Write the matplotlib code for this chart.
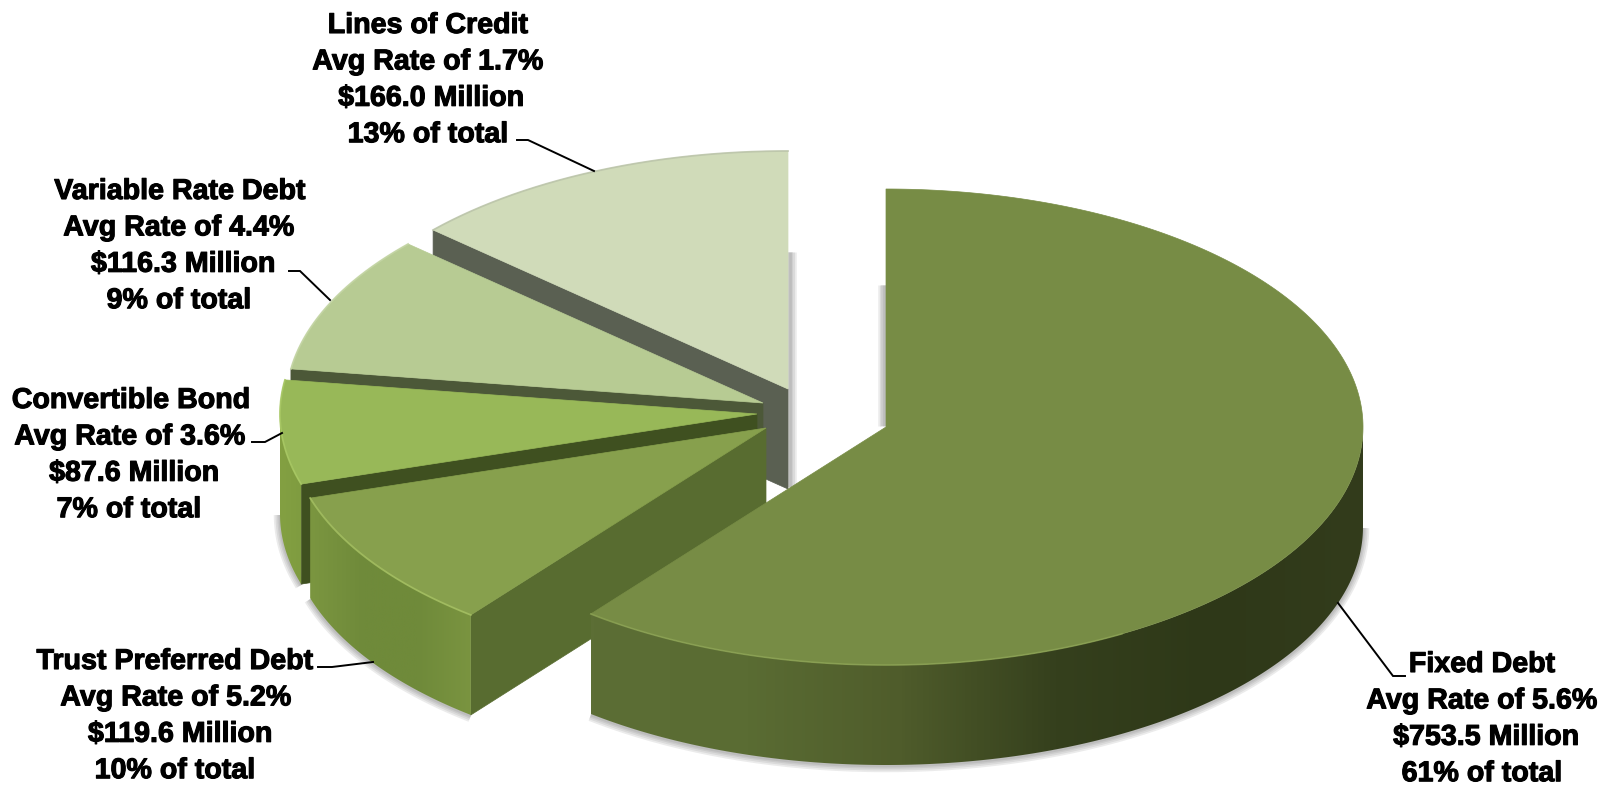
#!/usr/bin/env python3
# Exploded 3D pie of the debt mix, drawn by hand as projected wedges

import matplotlib
matplotlib.use('Agg')
import matplotlib.pyplot as plt
import matplotlib.patheffects as pe
import numpy as np
from matplotlib.colors import LinearSegmentedColormap
from matplotlib.patches import Polygon

# data
names = ['Fixed Debt', 'Trust Preferred Debt', 'Convertible Bond', 'Variable Rate Debt', 'Lines of Credit']
rates = [5.6, 5.2, 3.6, 4.4, 1.7]
amounts = [753.5, 119.6, 87.6, 116.3, 166.0]
shares = [61, 10, 7, 9, 13]

W, H = 1618, 788
plt.rcParams['font.family'] = ['Liberation Sans', 'DejaVu Sans']

# ellipse of the top face and height of the disc, in pixels
RX, RY, DEPTH = 477, 238, 100

# apex of each wedge after exploding
apex = [(886, 427), (766, 428), (757, 414), (763, 403), (788, 389)]

top_colors = ['#778c45', '#87a04d', '#98b858', '#b7cb93', '#d0dbb9']
face_colors = ['#566a2e', '#586c30', '#3f5020', '#4c5838', '#5a6052']
edge_colors = ['#8fa656', '#a6c163', '#a9c964', '#c5d6a6', '#b9c2a8']
rim_stops = [
    ['#5c6e35', '#5a6c33', '#4f5c2b', '#35401d', '#2e3818', '#333c1c'],
    ['#7b9640', '#6f8a3a', '#6f8a3a', '#7a9440'],
    ['#83a042', '#7f9c40'],
    None,
    None,
]

# leader lines: label end, elbow, wedge end
leaders = [
    [(1405, 676), (1393, 676), (1338, 603)],
    [(318, 667), (332, 667), (373, 662)],
    [(252, 442), (265, 442), (282, 433)],
    [(289, 271), (300, 271), (330, 300)],
    [(517, 140), (528, 140), (594, 171)],
]

# text rows: centre x of each of the four rows, then y of the first row
label_x = [
    [1482, 1482, 1486, 1482],
    [175, 176, 180, 175],
    [131, 130, 134, 129],
    [180, 179, 183, 179],
    [428, 428, 431, 428],
]
label_y = [664, 661, 400, 191, 25]

fig = plt.figure(figsize=(W / 100, H / 100), dpi=100)
ax = fig.add_axes([0, 0, 1, 1])


def ray(i, theta):
    # point on the top ellipse, theta clockwise from 12 o'clock
    return (apex[i][0] + RX * np.sin(theta), apex[i][1] - RY * np.cos(theta))


def soft_edge(xs, ys, z):
    # grey halo along an outline, fakes the drop shadow
    for w in (9, 6.5, 4, 2):
        ax.plot(xs, ys, color='#606060', alpha=0.12, lw=w, zorder=z,
                solid_capstyle='butt', solid_joinstyle='round')


edges = np.radians(np.cumsum([0] + amounts) / sum(amounts) * 360)

# back to front so nearer wedges cover the others
for i in [4, 3, 2, 1, 0]:
    z = (5 - i) * 10
    t0, t1 = edges[i], edges[i + 1]
    ax0, ay0 = apex[i]
    sx, sy = ray(i, t0)

    # cut face along the starting radius
    ax.add_patch(Polygon([(ax0, ay0), (ax0, ay0 + DEPTH), (sx, sy + DEPTH), (sx, sy)],
                         closed=True, fc=face_colors[i], ec=face_colors[i], lw=0.5, zorder=z + 2))

    # outer rim, only where it faces the viewer
    lo, hi = max(t0, np.pi / 2), min(t1, 3 * np.pi / 2)
    if rim_stops[i] is not None and hi > lo:
        th = np.linspace(lo, hi, 200)
        rx, ry = ray(i, th)
        rim = list(zip(rx, ry)) + list(zip(rx[::-1], ry[::-1] + DEPTH))
        soft_edge(rx, ry + DEPTH + 1, z)
        cmap = LinearSegmentedColormap.from_list('rim%d' % i, rim_stops[i])
        patch = Polygon(rim, closed=True, fc='none', ec='none', zorder=z + 3)
        ax.add_patch(patch)
        grad = np.linspace(0, 1, 256).reshape(1, -1)
        img = ax.imshow(grad, cmap=cmap, aspect='auto', zorder=z + 3,
                        extent=(rx.min(), rx.max(), ry.max() + DEPTH, ry.min()))
        img.set_clip_path(patch)

    # top face
    th = np.linspace(t0, t1, 300)
    tx, ty = ray(i, th)
    top = [(ax0, ay0)] + list(zip(tx, ty))
    ax.add_patch(Polygon(top, closed=True, fc=top_colors[i], ec=top_colors[i], lw=0.5, zorder=z + 4))

    # light line along the arc, on the big wedge only its front part catches light
    if i == 0:
        front = th > np.radians(150)
        ax.plot(tx[front], ty[front], color=edge_colors[i], lw=1.2, alpha=0.7, zorder=z + 5)
    else:
        ax.plot(tx, ty, color=edge_colors[i], lw=1.3, alpha=0.8, zorder=z + 5)

# shadows beside the two vertical edges
soft_edge([790, 790], [252, 487], 1)
soft_edge([884, 884], [285, 426], 45)

# leaders
for pts in leaders:
    xs, ys = zip(*pts)
    ax.plot(xs, ys, color='black', lw=1.4, zorder=80, solid_joinstyle='miter')

# labels, one text per row, stroked a little to get the heavier weight
for i in range(len(names)):
    rows = [names[i], 'Avg Rate of %.1f%%' % rates[i], '$%.1f Million' % amounts[i], '%d%% of total' % shares[i]]
    for j, row in enumerate(rows):
        t = ax.text(label_x[i][j], label_y[i] + j * 36.4, row, fontsize=20.6, fontweight='bold',
                    ha='center', va='center', color='black', zorder=90)
        t.set_path_effects([pe.withStroke(linewidth=0.8, foreground='black')])

ax.set_xlim(0, W)
ax.set_ylim(H, 0)
ax.axis('off')

plt.savefig('out.png', dpi=100, facecolor='white')
